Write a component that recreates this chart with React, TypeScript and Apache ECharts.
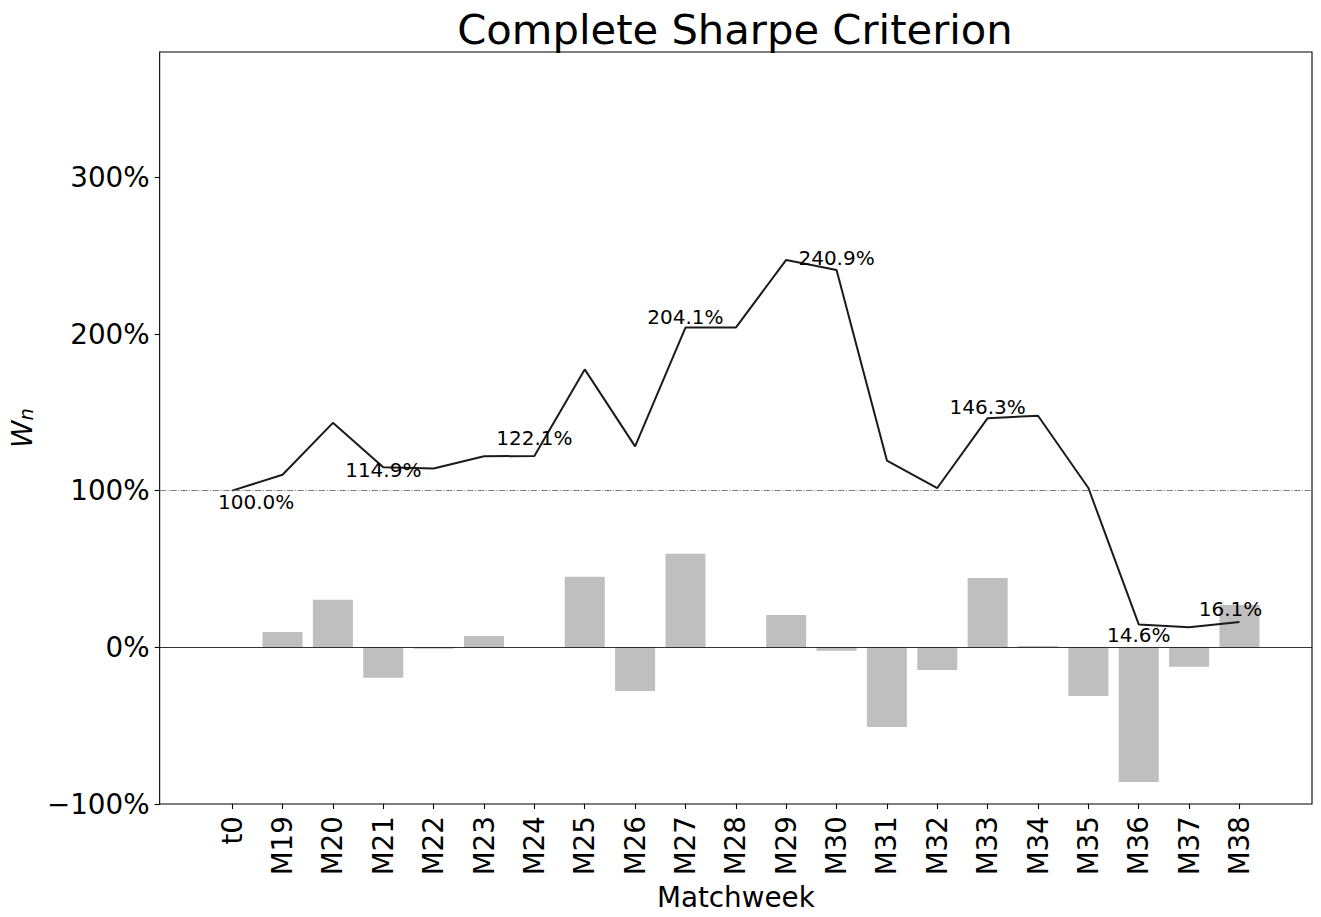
import React, { useEffect, useRef } from "react";
import * as echarts from "echarts";

// ---- data ----
const categories = [
  "t0", "M19", "M20", "M21", "M22", "M23", "M24", "M25", "M26", "M27", "M28",
  "M29", "M30", "M31", "M32", "M33", "M34", "M35", "M36", "M37", "M38",
];
// cumulative wealth W_n (%)
const wealth = [
  100.0, 110.2, 143.3, 114.9, 114.1, 122.0, 122.1, 177.4, 128.3, 204.1, 204.1,
  247.3, 240.9, 119.2, 101.7, 146.3, 147.8, 101.7, 14.6, 12.8, 16.1,
];
// per-matchweek return (%)
const returns: (number | null)[] = [
  null, 9.8, 30.3, -19.4, -0.9, 7.2, 0, 45.0, -27.8, 59.7, 0,
  20.7, -2.2, -50.8, -14.5, 44.3, 0.8, -31.0, -86.0, -12.4, 27.1,
];
// indices of annotated points
const annotated = [0, 3, 6, 9, 12, 15, 18, 20];
const yTicks = [-100, 0, 100, 200, 300];

const FONT = "DejaVu Sans";

export default function App() {
  const ref = useRef<HTMLDivElement>(null);

  useEffect(() => {
    if (!ref.current) return;
    const chart = echarts.init(ref.current, undefined, { renderer: "svg" });

    // label offsets (style), aligned with `annotated`
    const labelOffsets = [
      [24, 11], [0, 3], [0, -18], [0, -11], [0, -12], [0, -11], [0, 11], [-9, -13],
    ];

    const barData = returns
      .map((v, i) => (v == null ? null : [i, v]))
      .filter((d) => d !== null);

    const lineData = wealth.map((v, i) => [i, v]);

    const annData = annotated.map((idx, k) => ({
      value: [idx, wealth[idx]],
      label: {
        show: true,
        position: "inside",
        offset: labelOffsets[k],
        formatter: wealth[idx].toFixed(1) + "%",
      },
    }));

    const idx = categories.map((_, i) => i);

    const option: any = {
      animation: false,
      grid: {
        left: 158,
        right: 9,
        top: 52,
        bottom: 113,
        show: true,
        borderColor: "#000",
        borderWidth: 1.1,
        backgroundColor: "transparent",
      },
      graphic: [
        {
          type: "text",
          x: 735,
          y: 29.5,
          style: {
            text: "Complete Sharpe Criterion",
            font: `41.7px "${FONT}"`,
            fill: "#000",
            textAlign: "center",
            textVerticalAlign: "middle",
          },
        },
      ],
      xAxis: {
        type: "value",
        min: -1.44,
        max: 21.44,
        axisLine: { show: false, onZero: false },
        splitLine: { show: false },
        axisTick: {
          show: true,
          customValues: idx,
          length: 5,
          lineStyle: { color: "#000", width: 1.1 },
        },
        axisLabel: {
          customValues: idx,
          formatter: (v: number) => categories[Math.round(v)] ?? "",
          rotate: 90,
          fontSize: 27.8,
          fontFamily: FONT,
          color: "#000",
          margin: 12,
        },
        name: "Matchweek",
        nameLocation: "middle",
        nameGap: 68,
        nameTextStyle: { fontSize: 27.8, fontFamily: FONT, color: "#000" },
      },
      yAxis: {
        type: "value",
        min: -100,
        max: 380,
        axisLine: { show: false, onZero: false },
        splitLine: { show: false },
        axisTick: {
          show: true,
          customValues: yTicks,
          length: 5,
          lineStyle: { color: "#000", width: 1.1 },
        },
        axisLabel: {
          customValues: yTicks,
          formatter: (v: number) => (v < 0 ? "\u2212" + Math.abs(v) : String(v)) + "%",
          fontSize: 27.8,
          fontFamily: FONT,
          color: "#000",
          margin: 10,
        },
        name: "{w|W}{n|n}",
        nameLocation: "middle",
        nameRotate: 90,
        nameGap: 118,
        nameTextStyle: {
          color: "#000",
          rich: {
            w: {
              fontSize: 27.8,
              fontStyle: "italic",
              fontFamily: FONT,
              color: "#000",
              lineHeight: 34,
              verticalAlign: "bottom",
            },
            n: {
              fontSize: 19.5,
              fontStyle: "italic",
              fontFamily: FONT,
              color: "#000",
              lineHeight: 20,
              verticalAlign: "bottom",
            },
          },
        },
      },
      series: [
        {
          type: "bar",
          data: barData,
          barWidth: 40,
          itemStyle: { color: "#bfbfbf" },
          silent: true,
          z: 1,
          markLine: {
            silent: true,
            symbol: "none",
            label: { show: false },
            data: [
              { yAxis: 0, lineStyle: { color: "#000", width: 0.8, type: "solid" } },
              {
                yAxis: 100,
                lineStyle: { color: "#808080", width: 1, type: [6.4, 1.6, 1, 1.6] },
              },
            ],
          },
        },
        {
          type: "line",
          data: lineData,
          showSymbol: false,
          symbol: "none",
          lineStyle: { color: "#1a1a1a", width: 2 },
          silent: true,
          z: 3,
        },
        {
          type: "scatter",
          data: annData,
          symbolSize: 1,
          itemStyle: { color: "transparent" },
          silent: true,
          z: 4,
          label: {
            show: true,
            fontSize: 20,
            fontFamily: FONT,
            color: "#000",
            textBorderWidth: 0,
            opacity: 1,
          },
        },
      ],
    };

    chart.setOption(option);
    return () => chart.dispose();
  }, []);

  return (
    <div
      ref={ref}
      style={{ position: "absolute", left: 0, top: 0, width: 1321, height: 917, background: "#fff" }}
    />
  );
}
